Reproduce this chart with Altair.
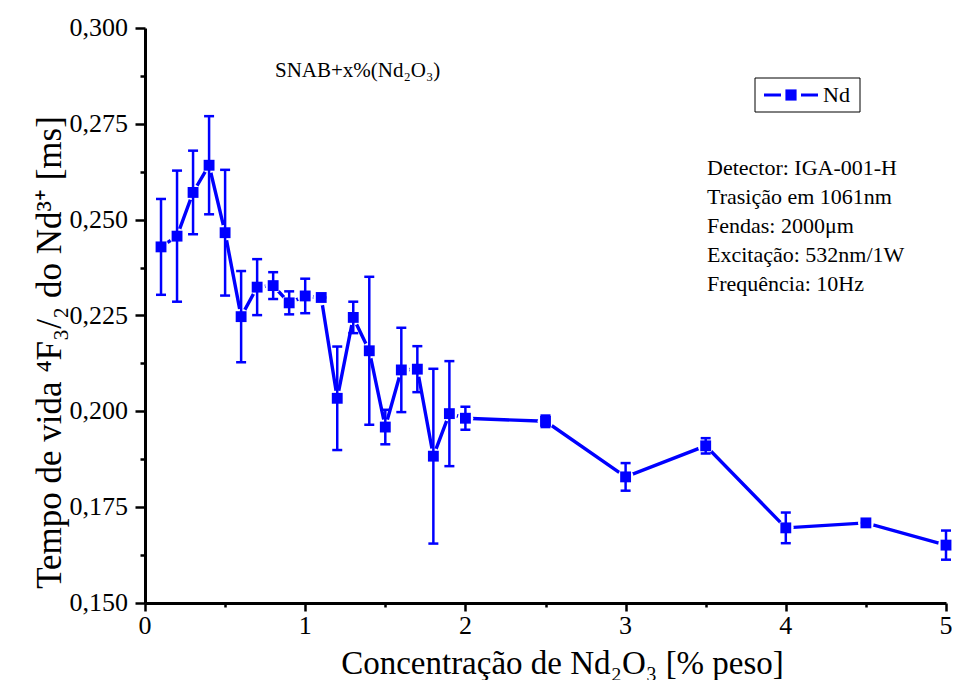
import altair as alt
import pandas as pd

# ---- data ----
conc = [0.1, 0.2, 0.3, 0.4, 0.5, 0.6, 0.7, 0.8, 0.9, 1.0, 1.1, 1.2, 1.3,
        1.4, 1.5, 1.6, 1.7, 1.8, 1.9, 2.0, 2.5, 3.0, 3.5, 4.0, 4.5, 5.0]
tau = [0.2429, 0.2457, 0.2571, 0.2642, 0.2466, 0.2247, 0.2324, 0.2328, 0.2283,
       0.2301, 0.2297, 0.2034, 0.2245, 0.2158, 0.1959, 0.2108, 0.2110, 0.1883,
       0.1994, 0.1982, 0.1974, 0.1829, 0.1910, 0.1696, 0.1709, 0.1651]
err = [0.0125, 0.0171, 0.0109, 0.0128, 0.0164, 0.0119, 0.0073, 0.0035, 0.0030,
       0.0045, 0.0000, 0.0135, 0.0041, 0.0193, 0.0045, 0.0110, 0.0060, 0.0228,
       0.0137, 0.0030, 0.0015, 0.0036, 0.0020, 0.0040, 0.0000, 0.0038]

# tick positions (major + minor) and the labels of the major ticks
y_ticks = [0.15, 0.1625, 0.175, 0.1875, 0.2, 0.2125, 0.225, 0.2375, 0.25,
           0.2625, 0.275, 0.2875, 0.3]
x_ticks = [0, 0.5, 1, 1.5, 2, 2.5, 3, 3.5, 4, 4.5, 5]
y_label_vals = [0.150, 0.175, 0.200, 0.225, 0.250, 0.275, 0.300]
y_label_text = ["0,150", "0,175", "0,200", "0,225", "0,250", "0,275", "0,300"]
x_label_vals = [0, 1, 2, 3, 4, 5]
x_label_text = ["0", "1", "2", "3", "4", "5"]

info_lines = ["Detector: IGA-001-H", "Trasição em 1061nm", "Fendas: 2000μm",
              "Excitação: 532nm/1W", "Frequência: 10Hz"]
sample_label = "SNAB+x%(Nd₂O₃)"
legend_label = "Nd"
x_title = "Concentração de Nd₂O₃ [% peso]"
y_title = "Tempo de vida ⁴F₃/₂ do Nd³⁺ [ms]"

df = pd.DataFrame({"x": conc, "y": tau, "e": err})
df["lo"] = df["y"] - df["e"]
df["hi"] = df["y"] + df["e"]

BLUE = "#0000FF"
FONT = "Liberation Serif"

W, H = 801, 575

xscale = alt.Scale(domain=[0, 5], nice=False, zero=False)
yscale = alt.Scale(domain=[0.15, 0.30], nice=False, zero=False)

ymajor = "abs(datum.value*40 - round(datum.value*40)) < 0.001"
xmajor = "abs(datum.value - round(datum.value)) < 0.001"

xaxis = alt.Axis(
    values=x_ticks, labels=False,
    tickSize={"condition": {"test": xmajor, "value": 8}, "value": 4},
    title=x_title, titleFont=FONT, titleFontSize=33,
    titleX=417, titleY=70, titleBaseline="alphabetic",
)
yaxis = alt.Axis(
    values=y_ticks, labels=False,
    tickSize={"condition": {"test": ymajor, "value": 10}, "value": 5},
    title=y_title, titleFont=FONT, titleFontSize=35,
    titleX=-85, titleY=324, titleBaseline="alphabetic", titleAngle=270,
)

base = alt.Chart(df)

line = base.mark_line(color=BLUE, strokeWidth=3.4).encode(
    x=alt.X("x:Q", scale=xscale, axis=xaxis),
    y=alt.Y("y:Q", scale=yscale, axis=yaxis),
)
halo = base.mark_point(shape="circle", filled=True, color="white", opacity=1,
                       size=250).encode(x="x:Q", y="y:Q")
bars = base.mark_rule(color=BLUE, strokeWidth=2.5).encode(
    x="x:Q", y="lo:Q", y2="hi:Q")
cap_lo = base.mark_tick(color=BLUE, orient="horizontal", size=10,
                        thickness=2.5, opacity=1).encode(x="x:Q", y="lo:Q")
cap_hi = base.mark_tick(color=BLUE, orient="horizontal", size=10,
                        thickness=2.5, opacity=1).encode(x="x:Q", y="hi:Q")
squares = base.mark_point(shape="square", filled=True, color=BLUE, opacity=1,
                          size=118).encode(x="x:Q", y="y:Q")

# ---- tick labels (serif, drawn through the same scales) ----
ylab = alt.Chart(pd.DataFrame({"v": y_label_vals, "t": y_label_text})).mark_text(
    font=FONT, fontSize=26, align="right", baseline="middle", color="black"
).encode(x=alt.value(-17), y=alt.Y("v:Q", scale=yscale, axis=yaxis), text="t:N")
xlab = alt.Chart(pd.DataFrame({"v": x_label_vals, "t": x_label_text})).mark_text(
    font=FONT, fontSize=26, align="center", baseline="top", color="black"
).encode(x=alt.X("v:Q", scale=xscale, axis=xaxis), y=alt.value(H + 10), text="t:N")

# ---- annotations ----
ann = alt.Chart(pd.DataFrame({"k": [0]}))
sample_txt = ann.mark_text(font=FONT, fontSize=21, align="left",
                           baseline="middle", color="black").encode(
    x=alt.value(130), y=alt.value(43), text=alt.value(sample_label))
info_txt = ann.mark_text(font=FONT, fontSize=22, align="left", baseline="middle",
                         lineHeight=29, color="black").encode(
    x=alt.value(562), y=alt.value(140), text=alt.value(info_lines))

leg_box = ann.mark_rect(fill="white", stroke="black", strokeWidth=1).encode(
    x=alt.value(610), x2=alt.value(715), y=alt.value(50), y2=alt.value(84))
leg_l1 = ann.mark_rule(color=BLUE, strokeWidth=3).encode(
    x=alt.value(619), x2=alt.value(636), y=alt.value(67))
leg_l2 = ann.mark_rule(color=BLUE, strokeWidth=3).encode(
    x=alt.value(656), x2=alt.value(673), y=alt.value(67))
leg_sq = ann.mark_point(shape="square", filled=True, color=BLUE, opacity=1,
                        size=125).encode(x=alt.value(646), y=alt.value(67))
leg_txt = ann.mark_text(font=FONT, fontSize=22, align="left", baseline="middle",
                        color="black").encode(
    x=alt.value(678), y=alt.value(67), text=alt.value(legend_label))

chart = alt.layer(
    line, halo, bars, cap_lo, cap_hi, squares, ylab, xlab,
    sample_txt, info_txt, leg_box, leg_l1, leg_l2, leg_sq, leg_txt,
).properties(
    width=W, height=H,
    padding={"left": 137, "top": 20, "right": 6, "bottom": 77},
    autosize=alt.AutoSizeParams(type="none"),
    background="white",
).configure(font=FONT).configure_view(stroke=None).configure_axis(
    grid=False, domainColor="black", domainWidth=3, tickColor="black",
    tickWidth=2.5, titleFont=FONT, titleColor="black", titleFontWeight="normal",
)

chart.save("out.html", embed_options={"renderer": "svg", "actions": False})
